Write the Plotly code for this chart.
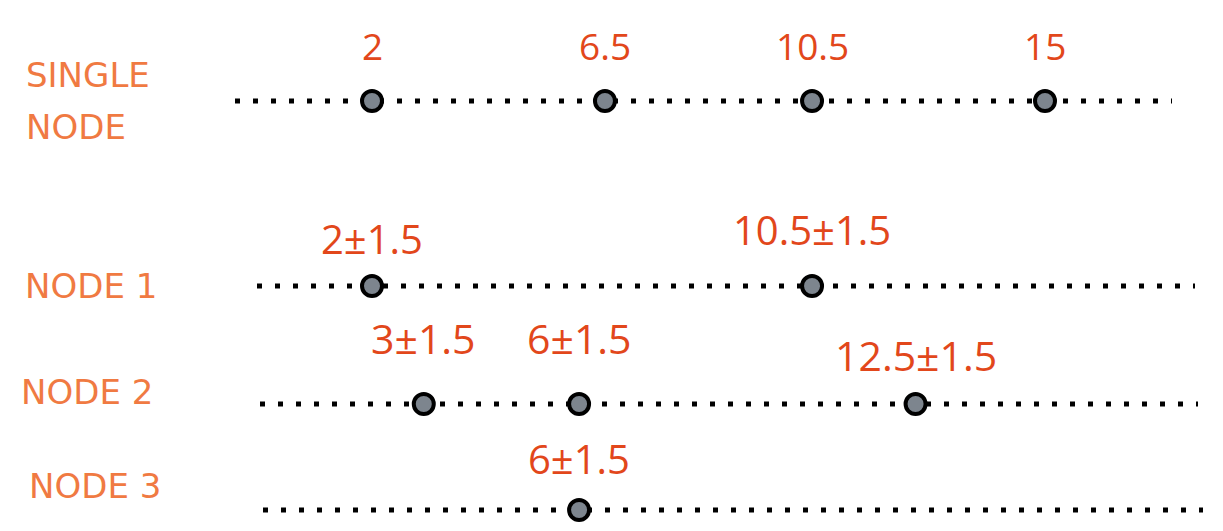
import plotly.graph_objects as go

# ---- data ----
row_names = ["SINGLE<br>NODE", "NODE 1", "NODE 2", "NODE 3"]
single_node_values = [2, 6.5, 10.5, 15]
single_node_labels = ["2", "6.5", "10.5", "15"]
node1_values = [2, 10.5]
node1_labels = ["2±1.5", "10.5±1.5"]
node2_values = [3, 6, 12.5]
node2_labels = ["3±1.5", "6±1.5", "12.5±1.5"]
node3_values = [6]
node3_labels = ["6±1.5"]

rows = [
    (single_node_values, single_node_labels),
    (node1_values, node1_labels),
    (node2_values, node2_labels),
    (node3_values, node3_labels),
]

# ---- layout constants (pixel-based vertical layout) ----
W, H = 1223, 531
row_y = [101, 286, 404, 510]
name_y = [101, 286, 392, 486]
name_x = [24, 23, 19, 27]
name_line_gap = 52
line_x0 = [235, 257, 260, 263]
line_x1 = [1172, 1195, 1198, 1203]
label_dy = [[56, 56, 56, 56], [48, 57], [66, 66, 49], [52]]
label_size = [37, 40, 41, 40]

LABEL_ORANGE = "#f07a42"
VALUE_RED = "#e2471b"

fig = go.Figure()
shapes = []
annotations = []

for i, (vals, labs) in enumerate(rows):
    # dotted guide line
    shapes.append(dict(
        type="line", xref="paper", yref="y",
        x0=line_x0[i] / W, x1=line_x1[i] / W, y0=row_y[i], y1=row_y[i],
        line=dict(color="black", width=5, dash="5px,13px"),
        layer="below",
    ))
    fig.add_trace(go.Scatter(
        x=vals, y=[row_y[i]] * len(vals), mode="markers",
        marker=dict(size=20, color="#7d858e", line=dict(color="black", width=4)),
        showlegend=False, hoverinfo="skip",
    ))
    for j, (v, t) in enumerate(zip(vals, labs)):
        annotations.append(dict(
            x=v, y=row_y[i] - label_dy[i][j], xref="x", yref="y",
            text=t, showarrow=False,
            font=dict(family="Open Sans", size=label_size[i], color=VALUE_RED),
        ))
    lines = row_names[i].split("<br>")
    n = len(lines)
    for k, ln in enumerate(lines):
        annotations.append(dict(
            x=name_x[i] / W,
            y=name_y[i] + (k - (n - 1) / 2) * name_line_gap,
            xref="paper", yref="y",
            xanchor="left", text=ln, showarrow=False, align="left",
            font=dict(family="DejaVu Sans", size=34, color=LABEL_ORANGE),
        ))

# x scale: value 2 -> ~372px, value 15 -> ~1045px
px_per_unit = (1045 - 372) / (15 - 2)
x_min = 2 - 372 / px_per_unit
x_max = 2 + (W - 372) / px_per_unit

fig.update_layout(
    width=W, height=H,
    margin=dict(l=0, r=0, t=0, b=0),
    paper_bgcolor="white", plot_bgcolor="white",
    xaxis=dict(range=[x_min, x_max], visible=False, fixedrange=True),
    yaxis=dict(range=[H, 0], visible=False, fixedrange=True),
    shapes=shapes, annotations=annotations,
)

fig.write_html("out.html")
